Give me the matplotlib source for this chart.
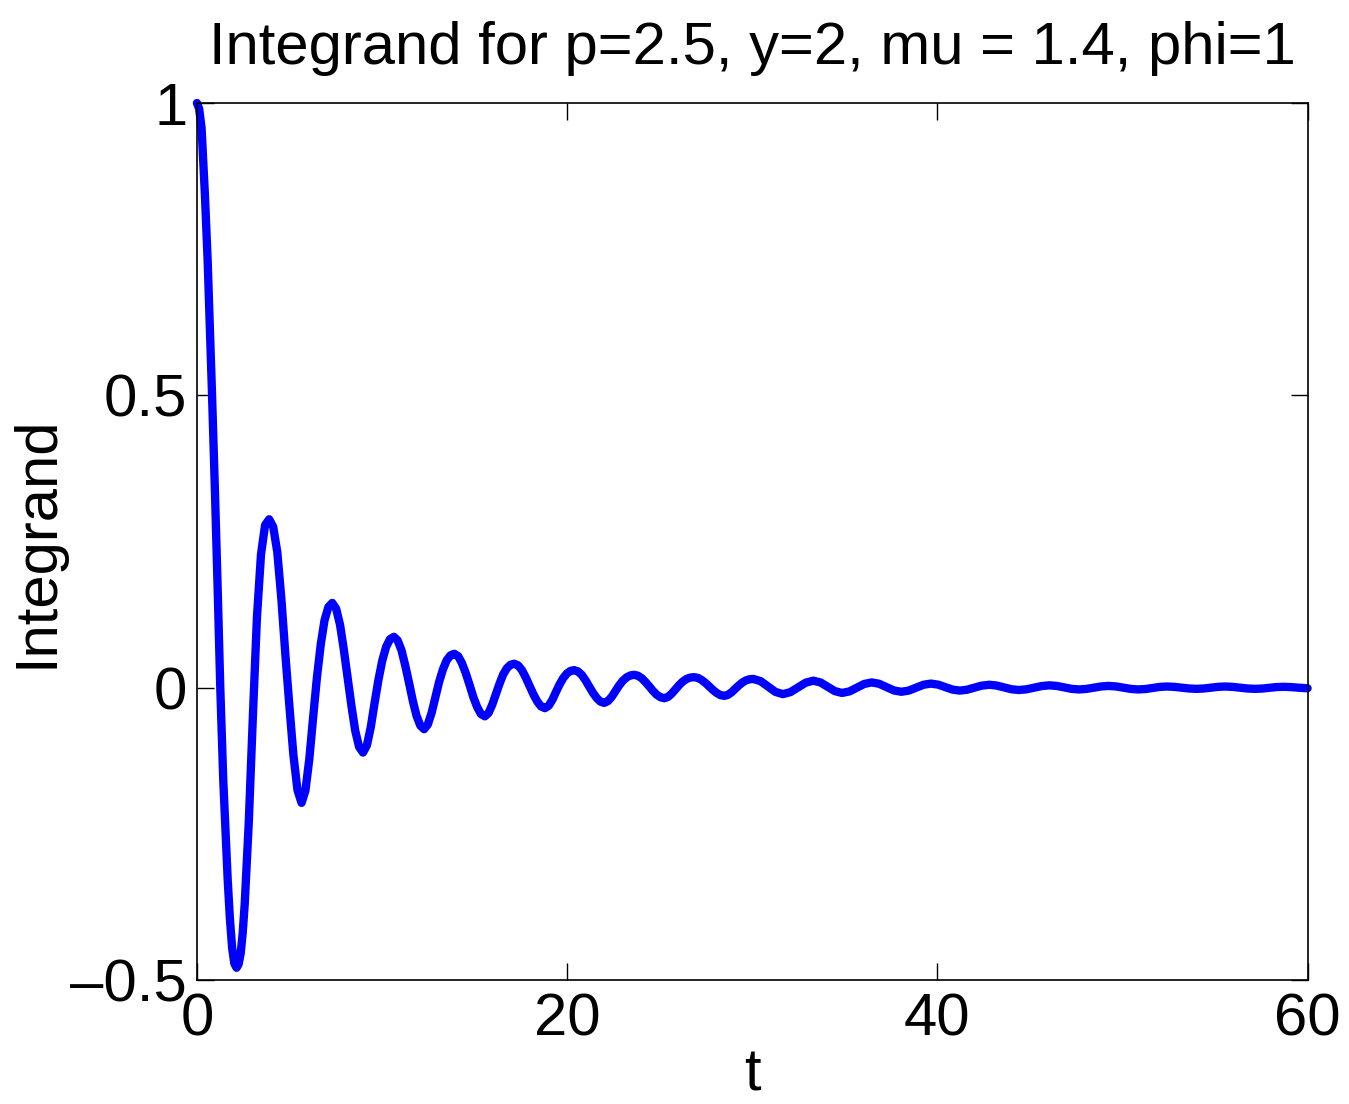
import matplotlib
matplotlib.use("Agg")
import matplotlib.pyplot as plt
from matplotlib.ticker import FuncFormatter

plt.rcParams['font.family'] = ['Liberation Sans', 'DejaVu Sans']

# Values (t, integrand)
t_vals = [
    0.00, 0.12, 0.25, 0.43, 0.58, 0.70, 0.81, 0.97, 1.12, 1.26, 1.42, 1.66, 1.78, 1.90, 2.02, 2.14,
    2.25, 2.36, 2.47, 2.58, 2.80, 3.02, 3.24, 3.46, 3.68, 3.90,
    4.12, 4.34, 4.56, 4.78, 4.99, 5.21, 5.43, 5.65,
    5.86, 6.07, 6.27, 6.48, 6.69, 6.89, 7.10, 7.31,
    7.52, 7.73, 7.93, 8.14, 8.35, 8.55, 8.76, 8.97,
    9.18, 9.39, 9.59, 9.80, 10.01, 10.22, 10.43, 10.64,
    10.84, 11.05, 11.25, 11.46, 11.66, 11.86, 12.07, 12.27,
    12.47, 12.68, 12.88, 13.08, 13.29, 13.49, 13.70, 13.90,
    14.11, 14.31, 14.52, 14.73, 14.93, 15.14, 15.34, 15.55,
    15.75, 15.95, 16.15, 16.35, 16.54, 16.74, 16.94, 17.14,
    17.35, 17.56, 17.76, 17.97, 18.18, 18.39, 18.59, 18.80,
    19.00, 19.20, 19.39, 19.59, 19.79, 19.99, 20.18, 20.38,
    20.58, 20.79, 20.99, 21.19, 21.39, 21.60, 21.80, 22.00,
    22.20, 22.41, 22.61, 22.81, 23.01, 23.22, 23.42, 23.62,
    23.82, 24.03, 24.23, 24.44, 24.64, 24.84, 25.05, 25.25,
    25.45, 25.65, 25.85, 26.05, 26.25, 26.45, 26.65, 26.85,
    27.06, 27.26, 27.47, 27.68, 27.88, 28.09, 28.29, 28.50,
    28.69, 28.89, 29.08, 29.28, 29.47, 29.66, 29.86, 30.05,
    30.45, 30.85, 31.25, 31.65,
    32.06, 32.48, 32.89, 33.30,
    33.69, 34.08, 34.46, 34.85,
    35.25, 35.65, 36.05, 36.45,
    36.85, 37.25, 37.65, 38.05,
    38.45, 38.85, 39.25, 39.65,
    40.04, 40.43, 40.81, 41.20,
    41.60, 42.00, 42.40, 42.80,
    43.20, 43.60, 44.00, 44.40,
    44.81, 45.23, 45.64, 46.05,
    46.45, 46.85, 47.25, 47.65,
    48.05, 48.45, 48.85, 49.25,
    49.65, 50.05, 50.45, 50.85,
    51.24, 51.63, 52.01, 52.40,
    52.80, 53.20, 53.60, 54.00,
    54.39, 54.78, 55.16, 55.55,
    55.95, 56.35, 56.75, 57.15,
    57.54, 57.93, 58.31, 58.70,
    59.10, 59.50, 60.00,
]
integrand_vals = [
    1.000, 0.990, 0.957, 0.843, 0.729, 0.615, 0.506, 0.338, 0.168, 0.000, -0.157, -0.328, -0.395, -0.445, -0.472, -0.479,
    -0.473, -0.455, -0.420, -0.370, -0.230, -0.050, 0.120, 0.228, 0.278, 0.288,
    0.275, 0.232, 0.152, 0.055, -0.030, -0.115, -0.175, -0.197,
    -0.176, -0.122, -0.053, 0.017, 0.0745, 0.115, 0.138, 0.145,
    0.135, 0.1075, 0.066, 0.017, -0.032, -0.0735, -0.1013, -0.111,
    -0.0987, -0.0676, -0.0274, 0.0127, 0.0462, 0.0699, 0.083, 0.087,
    0.081, 0.0639, 0.0383, 0.008, -0.0223, -0.0479, -0.065, -0.071,
    -0.063, -0.0427, -0.0166, 0.0096, 0.0314, 0.0468, 0.0554, 0.058,
    0.0539, 0.0423, 0.025, 0.0045, -0.016, -0.0333, -0.0449, -0.049,
    -0.0434, -0.0293, -0.011, 0.0072, 0.0225, 0.0332, 0.0392, 0.041,
    0.0381, 0.0299, 0.0176, 0.003, -0.0116, -0.0239, -0.0321, -0.035,
    -0.031, -0.0208, -0.0076, 0.0056, 0.0166, 0.0244, 0.0287, 0.030,
    0.0279, 0.0218, 0.0127, 0.002, -0.0087, -0.0178, -0.0239, -0.026,
    -0.023, -0.0155, -0.0057, 0.004, 0.0121, 0.0178, 0.021, 0.022,
    0.0205, 0.0161, 0.0097, 0.002, -0.0057, -0.0121, -0.0165, -0.018,
    -0.0158, -0.0101, -0.0028, 0.0045, 0.0106, 0.0149, 0.0173, 0.018,
    0.0168, 0.0133, 0.0081, 0.002, -0.0041, -0.0093, -0.0128, -0.014,
    -0.0122, -0.0076, -0.0018, 0.0041, 0.009, 0.0125, 0.0144, 0.015,
    0.0112, 0.002, -0.0072, -0.011,
    -0.0076, 0.0005, 0.0086, 0.012,
    0.0089, 0.0015, -0.0059, -0.009,
    -0.0064, 0.000, 0.0064, 0.009,
    0.0067, 0.001, -0.0047, -0.007,
    -0.005, 0.000, 0.005, 0.007,
    0.0052, 0.001, -0.0032, -0.005,
    -0.0035, 0.000, 0.0035, 0.005,
    0.0037, 0.0005, -0.0027, -0.004,
    -0.0028, 0.000, 0.0028, 0.004,
    0.003, 0.0005, -0.002, -0.003,
    -0.0021, 0.000, 0.0021, 0.003,
    0.0021, 0.000, -0.0021, -0.003,
    -0.0023, -0.0005, 0.0013, 0.002,
    0.0014, 0.000, -0.0014, -0.002,
    -0.0014, 0.000, 0.0014, 0.002,
    0.0014, 0.000, -0.0014, -0.002,
    -0.0015, -0.0003, 0.001, 0.0015,
    0.001, 0.000, -0.001,
]
x_ticks = [0, 20, 40, 60]
y_ticks = [-0.5, 0, 0.5, 1]
title = "Integrand for p=2.5, y=2, mu = 1.4, phi=1"
x_label = "t"
y_label = "Integrand"

fs = 43
fig = plt.figure(figsize=(13.49, 11.04), dpi=100)
ax = fig.add_axes([0.146, 0.1123, 0.8233, 0.7944])
ax.plot(t_vals, integrand_vals, color=(0, 0, 1), lw=6.0, solid_joinstyle='round',
        solid_capstyle='round', clip_on=False)
ax.set_xlim(0, 60)
ax.set_ylim(-0.5, 1)
ax.set_xticks(x_ticks)
ax.set_yticks(y_ticks)
fmt = FuncFormatter(lambda v, p: f"{v:g}".replace("-", "\u2013"))
ax.xaxis.set_major_formatter(fmt)
ax.yaxis.set_major_formatter(fmt)
ax.tick_params(direction='in', length=12, width=1.0, labelsize=fs, top=True, right=True)
ax.tick_params(axis='x', pad=9)
ax.tick_params(axis='y', pad=7)
for s in ax.spines.values():
    s.set_linewidth(1.2)
ax.set_xlabel(x_label, fontsize=fs, labelpad=0)
ax.set_ylabel(y_label, fontsize=fs, labelpad=4)
ax.set_title(title, fontsize=fs, pad=28)
fig.savefig("out.png", dpi=100)
